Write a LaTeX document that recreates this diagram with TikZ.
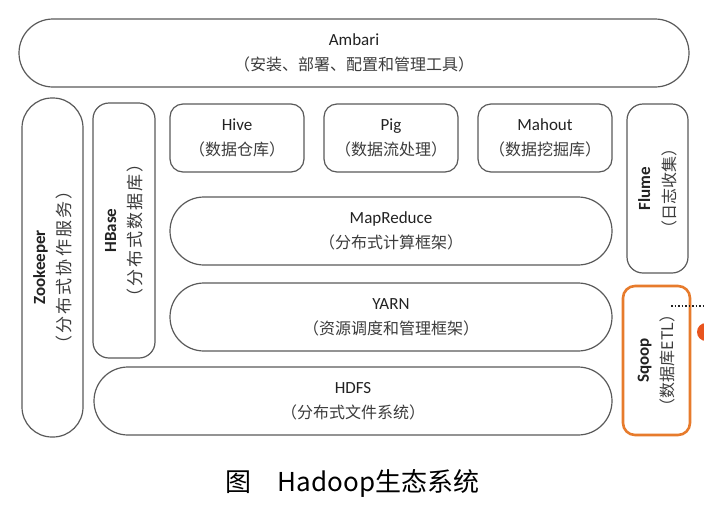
\documentclass[tikz,border=0pt]{standalone}
\usepackage{fontspec}
\setmainfont{Carlito}
\newfontfamily\cjk{Noto Sans CJK SC}
\newfontfamily\cjkwide[LetterSpace=12]{Noto Sans CJK SC}
\definecolor{linegray}{HTML}{5A5A5A}
\definecolor{textdark}{HTML}{222222}
\definecolor{subgray}{HTML}{3C3C3C}
\definecolor{sqorange}{HTML}{E77B2C}
\definecolor{dotred}{HTML}{E8541E}
% two-line labels: English name, Chinese gloss underneath
\newcommand{\twoline}[2]{#1\\{\cjk\fontsize{16}{25}\selectfont\color{subgray}#2}}
\newcommand{\sideline}[2]{{\bfseries #1}\\{\cjk\fontsize{16}{25}\selectfont\color{subgray}#2}}
\newcommand{\sidelinewide}[2]{{\bfseries #1}\\{\cjkwide\fontsize{17}{25}\selectfont\color{subgray}#2}}
\begin{document}
\begin{tikzpicture}[x=1pt,y=-1pt,
	box/.style={draw=linegray, line width=1.2pt, fill=white, inner sep=0pt, align=center, text=textdark, font=\fontsize{17}{25}\selectfont},
	pill/.style={box, minimum width=#1, minimum height=68pt, rounded corners=34pt},
	tool/.style={box, minimum width=134pt, minimum height=68pt, rounded corners=13pt},
	side/.style={box, rotate=90},
	dotline/.style={draw=textdark, line width=1.6pt, dash pattern=on 1.5pt off 2pt}]
	\fill[white] (0,0) rectangle (704,504);
	\useasboundingbox (0,0) rectangle (704,504);
	% top layer
	\node[pill=670pt] (ambari) at (354,53) {\twoline{Ambari}{（安装、部署、配置和管理工具）}};
	% side columns
	\node[side, minimum width=339pt, minimum height=61pt, rounded corners=30pt] (zookeeper) at (52.5,267.5) {\sidelinewide{Zookeeper}{（分布式协作服务）}};
	\node[side, minimum width=255pt, minimum height=62pt, rounded corners=16pt] (hbase) at (124,230.5) {\sidelinewide{HBase}{（分布式数据库）}};
	\node[side, minimum width=169pt, minimum height=61pt, rounded corners=16pt] (flume) at (657.5,188.5) {\sideline{Flume}{（日志收集）}};
	\node[side, draw=sqorange, line width=2.6pt, minimum width=149pt, minimum height=67pt, rounded corners=12pt] (sqoop) at (656.5,360.5) {\sideline{Sqoop}{（数据库ETL）}};
	% tools
	\node[tool] (hive) at (237,138) {\twoline{Hive}{（数据仓库）}};
	\node[tool] (pig) at (391,138) {\twoline{Pig}{（数据流处理）}};
	\node[tool] (mahout) at (545,138) {\twoline{Mahout}{（数据挖掘库）}};
	% core stack
	\node[pill=442pt] (mapreduce) at (391,231) {\twoline{MapReduce}{（分布式计算框架）}};
	\node[pill=442pt] (yarn) at (391,317) {\twoline{YARN}{（资源调度和管理框架）}};
	\node[pill=518pt] (hdfs) at (353,401) {\twoline{HDFS}{（分布式文件系统）}};
	% pointer leaving the picture
	\coordinate (dotstart) at (671,306);
	\coordinate (dotend) at (704,306);
	\draw[dotline] (dotstart) -- (dotend);
	\node[circle, fill=dotred, inner sep=0pt, minimum size=18pt] (marker) at (706,332) {};
	\node[font=\cjk\fontsize{26}{30}\selectfont, text=black] (caption) at (352.5,483) {图\quad Hadoop生态系统};
\end{tikzpicture}
\end{document}
